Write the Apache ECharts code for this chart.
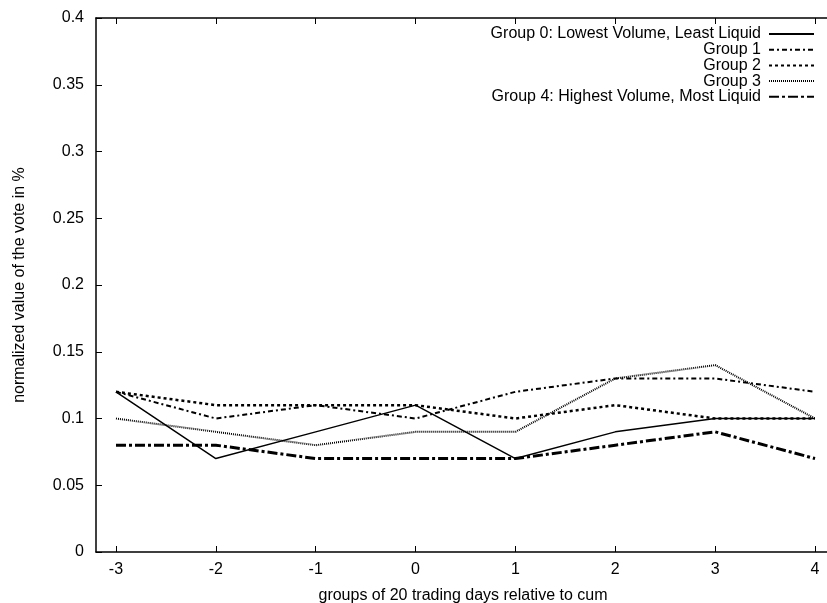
<!DOCTYPE html>
<html>
<head>
<meta charset="utf-8">
<script src="https://cdn.jsdelivr.net/npm/echarts@6/dist/echarts.min.js"></script>
<style>
  html, body { margin: 0; padding: 0; background: #fff; }
  #chart { width: 827px; height: 603px; }
</style>
</head>
<body>
<div id="chart"></div>
<script>
// x positions: groups of 20 trading days relative to cum
const xValues = [-3, -2, -1, 0, 1, 2, 3, 4];

const seriesNames = [
  'Group 0: Lowest Volume, Least Liquid',
  'Group 1',
  'Group 2',
  'Group 3',
  'Group 4: Highest Volume, Most Liquid'
];

const group0 = [0.12, 0.07, 0.09, 0.11, 0.07, 0.09, 0.10, 0.10];
const group1 = [0.12, 0.10, 0.11, 0.10, 0.12, 0.13, 0.13, 0.12];
const group2 = [0.12, 0.11, 0.11, 0.11, 0.10, 0.11, 0.10, 0.10];
const group3 = [0.10, 0.09, 0.08, 0.09, 0.09, 0.13, 0.14, 0.10];
const group4 = [0.08, 0.08, 0.07, 0.07, 0.07, 0.08, 0.09, 0.07];

const seriesValues = [group0, group1, group2, group3, group4];

// gnuplot-like monochrome line styles
const lineStyles = [
  { width: 1.5, type: 'solid' },
  { width: 2, type: [5, 3, 2, 3] },
  { width: 2.5, type: [3, 3] },
  { width: 2, type: [1, 1] },
  { width: 3, type: [10, 3, 3, 3] }
];

const font = 'Liberation Sans, Arial, sans-serif';
const fontSize = 16;

const chart = echarts.init(document.getElementById('chart'));

// 坐标轴公共样式
const tickStyle = {
  show: true, inside: true, length: 6,
  lineStyle: { color: '#000', width: 1 }
};
const axisLineStyle = { show: true, onZero: false, lineStyle: { color: '#000', width: 1.5 } };

const option = {
  animation: false,
  backgroundColor: '#fff',
  grid: {
    left: 96, right: -3, top: 18, bottom: 51,
    containLabel: false, outerBoundsMode: 'none'
  },
  legend: {
    orient: 'vertical',
    align: 'right',
    right: 7,
    top: 21,
    itemWidth: 45,
    itemHeight: 10,
    itemGap: -0.3,
    itemStyle: { opacity: 0 },
    textStyle: {
      color: '#000', fontFamily: font, fontSize: fontSize,
      lineHeight: 14, padding: [0, 3, 0, 0]
    },
    data: seriesNames
  },
  xAxis: [
    {
      type: 'value',
      min: -3.2,
      max: 4.15,
      interval: 1,
      name: 'groups of 20 trading days relative to cum',
      nameLocation: 'middle',
      nameGap: 36,
      nameTextStyle: { color: '#000', fontFamily: font, fontSize: fontSize },
      axisLine: axisLineStyle,
      splitLine: { show: false },
      axisLabel: {
        color: '#000', fontFamily: font, fontSize: fontSize, margin: 10,
        customValues: xValues
      },
      axisTick: Object.assign({ customValues: xValues }, tickStyle)
    },
    {
      type: 'value',
      position: 'top',
      min: -3.2,
      max: 4.15,
      axisLine: axisLineStyle,
      splitLine: { show: false },
      axisLabel: { show: false },
      axisTick: Object.assign({ customValues: xValues }, tickStyle)
    }
  ],
  yAxis: [
    {
      type: 'value',
      min: 0,
      max: 0.4,
      interval: 0.05,
      name: 'normalized value of the vote in %',
      nameLocation: 'middle',
      nameGap: 68,
      nameRotate: 90,
      nameTextStyle: { color: '#000', fontFamily: font, fontSize: fontSize },
      axisLine: axisLineStyle,
      splitLine: { show: false },
      axisTick: tickStyle,
      axisLabel: { color: '#000', fontFamily: font, fontSize: fontSize, margin: 12 }
    }
  ],
  series: seriesNames.map((name, i) => ({
    name: name,
    type: 'line',
    xAxisIndex: 0,
    symbol: 'none',
    color: '#000',
    lineStyle: Object.assign({ color: '#000' }, lineStyles[i]),
    data: xValues.map((x, j) => [x, seriesValues[i][j]])
  }))
};

chart.setOption(option);
</script>
</body>
</html>
